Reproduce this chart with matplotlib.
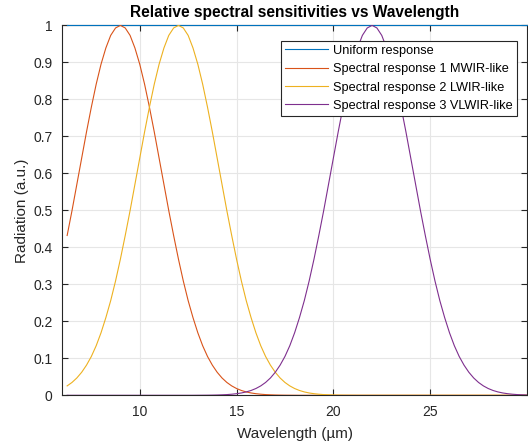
import numpy as np
import matplotlib
matplotlib.use("Agg")
import matplotlib.pyplot as plt
from matplotlib.ticker import FuncFormatter

plt.rcParams['font.family'] = ['Liberation Sans', 'DejaVu Sans']

# wavelength samples (um)
wavelength = [
    6.25, 6.5, 6.75, 7.0, 7.25, 7.5, 7.75, 8.0, 8.25, 8.5, 8.75, 9.0,
    9.25, 9.5, 9.75, 10.0, 10.25, 10.5, 10.75, 11.0, 11.25, 11.5, 11.75, 12.0,
    12.25, 12.5, 12.75, 13.0, 13.25, 13.5, 13.75, 14.0, 14.25, 14.5, 14.75, 15.0,
    15.25, 15.5, 15.75, 16.0, 16.25, 16.5, 16.75, 17.0, 17.25, 17.5, 17.75, 18.0,
    18.25, 18.5, 18.75, 19.0, 19.25, 19.5, 19.75, 20.0, 20.25, 20.5, 20.75, 21.0,
    21.25, 21.5, 21.75, 22.0, 22.25, 22.5, 22.75, 23.0, 23.25, 23.5, 23.75, 24.0,
    24.25, 24.5, 24.75, 25.0, 25.25, 25.5, 25.75, 26.0, 26.25, 26.5, 26.75, 27.0,
    27.25, 27.5, 27.75, 28.0, 28.25, 28.5, 28.75, 29.0, 29.25, 29.5, 29.75, 30.0,
]

uniform = [1.0] * len(wavelength)

# MWIR-like, peak ~9 um
resp_mwir = [
    0.432, 0.499, 0.570, 0.641, 0.712, 0.779, 0.841, 0.895, 0.939, 0.973, 0.993, 1.000,
    0.993, 0.973, 0.939, 0.895, 0.841, 0.779, 0.712, 0.641, 0.570, 0.499, 0.432, 0.368,
    0.309, 0.256, 0.210, 0.169, 0.134, 0.105, 0.0815, 0.0622, 0.0468, 0.0347, 0.0254, 0.0183,
    0.0130, 0.0091, 0.0063, 0.0043, 0.0029, 0.0019, 0.0013, 0.0008, 0.0005, 0.0003, 0.0002, 0.0001,
] + [0.0] * 48

# LWIR-like, peak ~12 um
resp_lwir = [
    0.0254, 0.0347, 0.0468, 0.0622, 0.0815, 0.105, 0.134, 0.169, 0.210, 0.256, 0.309, 0.368,
    0.432, 0.499, 0.570, 0.641, 0.712, 0.779, 0.841, 0.895, 0.939, 0.973, 0.993, 1.000,
    0.993, 0.973, 0.939, 0.895, 0.841, 0.779, 0.712, 0.641, 0.570, 0.499, 0.432, 0.368,
    0.309, 0.256, 0.210, 0.169, 0.134, 0.105, 0.0815, 0.0622, 0.0468, 0.0347, 0.0254, 0.0183,
    0.0130, 0.0091, 0.0063, 0.0043, 0.0029, 0.0019, 0.0013, 0.0008, 0.0005, 0.0003, 0.0002, 0.0001,
] + [0.0] * 36

# VLWIR-like, peak ~22 um
resp_vlwir = [0.0] * 27 + [
    0.0001, 0.0002, 0.0003, 0.0005, 0.0008, 0.0013, 0.0019, 0.0029, 0.0043,
    0.0063, 0.0091, 0.0130, 0.0183, 0.0254, 0.0347, 0.0468, 0.0622, 0.0815, 0.105, 0.134,
    0.169, 0.210, 0.256, 0.309, 0.368, 0.432, 0.499, 0.570, 0.641, 0.712, 0.779, 0.841,
    0.895, 0.939, 0.973, 0.993, 1.000,
    0.993, 0.973, 0.939, 0.895, 0.841, 0.779, 0.712, 0.641, 0.570, 0.499, 0.432, 0.368,
    0.309, 0.256, 0.210, 0.169, 0.134, 0.105, 0.0815, 0.0622, 0.0468, 0.0347, 0.0254, 0.0183,
    0.0130, 0.0091, 0.0063, 0.0043, 0.0029, 0.0019, 0.0013, 0.0008,
]

labels = ['Uniform response', 'Spectral response 1 MWIR-like',
          'Spectral response 2 LWIR-like', 'Spectral response 3 VLWIR-like']
colors = ['#0072BD', '#D95319', '#EDB120', '#7E2F8E']

x_ticks = [10, 15, 20, 25]
y_ticks = [0, 0.1, 0.2, 0.3, 0.4, 0.5, 0.6, 0.7, 0.8, 0.9, 1.0]

fig = plt.figure(figsize=(5.28, 4.43), dpi=100)
ax = fig.add_axes([0.118, 0.1077, 0.880, 0.835])

series = [uniform, resp_mwir, resp_lwir, resp_vlwir]
for i, (y, lab, c) in enumerate(zip(series, labels, colors)):
    ax.plot(wavelength, y, color=c, linewidth=0.8, label=lab,
            clip_on=(i != 0), zorder=3)

ax.set_xlim(6, 30)
ax.set_ylim(0, 1)
ax.set_xticks(x_ticks)
ax.set_yticks(y_ticks)
ax.yaxis.set_major_formatter(FuncFormatter(lambda v, p: ('%g' % round(v, 2))))
ax.grid(True, color='#e6e6e6', linewidth=0.8)
ax.set_axisbelow(True)

dark = '#262626'
for s in ax.spines.values():
    s.set_color(dark)
    s.set_linewidth(0.8)
ax.tick_params(direction='in', top=True, right=True, length=4, width=0.8,
               colors=dark, labelsize=10, pad=7)

ax.set_xlabel('Wavelength (µm)', fontsize=11, color=dark, labelpad=6)
ax.set_ylabel('Radiation (a.u.)', fontsize=11, color=dark, labelpad=3)
ax.set_title('Relative spectral sensitivities vs Wavelength', fontsize=11.2,
             fontweight='bold', pad=6)

leg = ax.legend(loc='upper right', bbox_to_anchor=(0.978, 0.958), fontsize=9.2,
                frameon=True, fancybox=False, framealpha=1, edgecolor='#262626',
                handlelength=3.4, handletextpad=0.4, borderpad=0.3,
                labelspacing=0.5, borderaxespad=0)
leg.get_frame().set_linewidth(0.8)

fig.savefig('out.png', dpi=100)
